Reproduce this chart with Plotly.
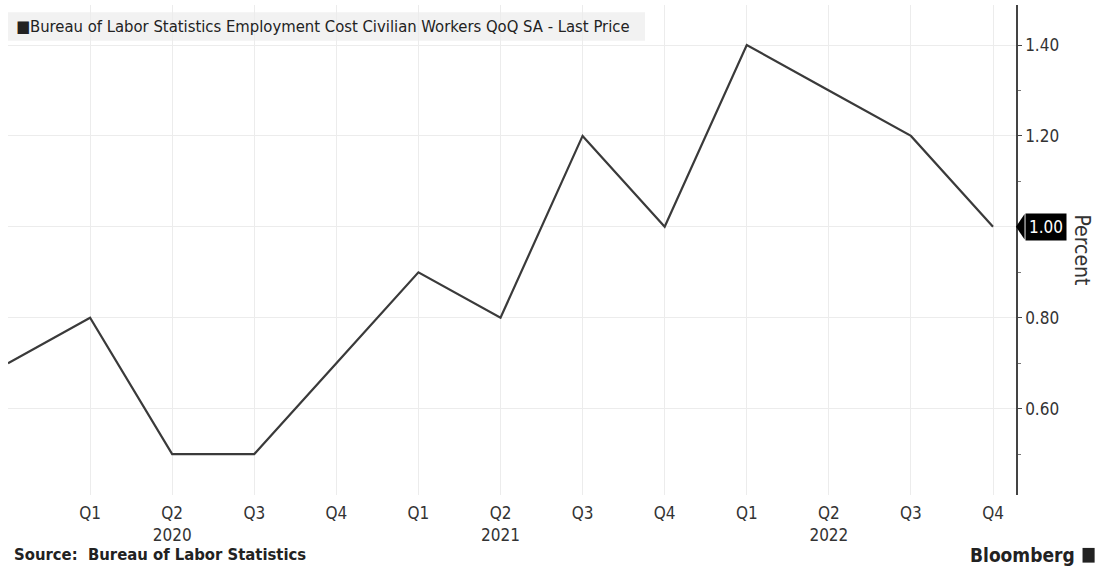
import plotly.graph_objects as go

quarters = ["Q4 2019", "Q1 2020", "Q2 2020", "Q3 2020", "Q4 2020",
            "Q1 2021", "Q2 2021", "Q3 2021", "Q4 2021",
            "Q1 2022", "Q2 2022", "Q3 2022", "Q4 2022"]
values = [0.70, 0.80, 0.50, 0.50, 0.70, 0.90, 0.80, 1.20, 1.00, 1.40, 1.30, 1.20, 1.00]
tick_labels = ["", "Q1", "Q2<br>2020", "Q3", "Q4", "Q1", "Q2<br>2021", "Q3", "Q4",
               "Q1", "Q2<br>2022", "Q3", "Q4"]
y_ticks = [0.60, 0.80, 1.00, 1.20, 1.40]

FONT = "Liberation Sans Narrow, DejaVu Sans Condensed, Arial Narrow, sans-serif"
xs = list(range(len(quarters)))

fig = go.Figure()
fig.add_trace(go.Scatter(
    x=xs, y=values, mode="lines",
    line=dict(color="#3a3a3a", width=2.2),
    hovertext=quarters, showlegend=False,
))

last = values[-1]
y_text = ["" if abs(v - last) < 1e-9 else f"{v:.2f}" for v in y_ticks]

fig.update_layout(
    width=1099, height=569,
    margin=dict(l=8, r=83, t=5, b=74),
    paper_bgcolor="white", plot_bgcolor="white",
    font=dict(family=FONT, color="#333333", size=15),
    xaxis=dict(
        range=[0, 12.28], tickvals=xs, ticktext=tick_labels,
        showgrid=True, gridcolor="#ececec", gridwidth=1,
        zeroline=False, showline=False, ticks="",
        ticklabelstandoff=6,
        tickfont=dict(size=17, color="#333333"),
    ),
    yaxis=dict(
        side="right", range=[0.41, 1.488],
        tickvals=y_ticks, ticktext=y_text,
        showgrid=True, gridcolor="#ececec", gridwidth=1,
        zeroline=False, showline=True, linecolor="#444444", linewidth=1.5,
        ticks="outside", ticklen=4, tickcolor="#444444",
        minor=dict(dtick=0.1, tick0=0, ticks="outside", ticklen=3, tickcolor="#777777", showgrid=False),
        tickfont=dict(size=17, color="#333333"),
    ),
    shapes=[
        dict(type="rect", xref="paper", yref="paper", x0=0.0, x1=0.632, y0=0.927, y1=0.985,
             fillcolor="#f2f2f2", line=dict(width=0), layer="below"),
        dict(type="path", xref="paper", yref="y",
             path=f"M 1.0,{last} L 1.0085,{last + 0.028} L 1.0085,{last - 0.028} Z",
             fillcolor="black", line=dict(width=0)),
        dict(type="rect", xref="paper", yref="paper", x0=1.066, x1=1.078, y0=-0.138, y1=-0.108,
             fillcolor="#222222", line=dict(width=0)),
    ],
    annotations=[
        dict(text="■Bureau of Labor Statistics Employment Cost Civilian Workers QoQ SA - Last Price",
             xref="paper", yref="paper", x=0.006, y=0.956, xanchor="left", yanchor="middle",
             showarrow=False, font=dict(size=16.5, color="#222222")),
        dict(text=f"{last:.2f}", xref="paper", yref="y", x=1.0085, y=last,
             xanchor="left", yanchor="middle", showarrow=False,
             bgcolor="black", font=dict(size=17, color="white"), borderpad=3),
        dict(text="Percent", xref="paper", yref="paper", x=1.065, y=0.5,
             xanchor="center", yanchor="middle", textangle=90, showarrow=False,
             font=dict(size=21, color="#333333")),
        dict(text="<b>Source:  Bureau of Labor Statistics</b>", xref="paper", yref="paper",
             x=0.004, y=-0.122, xanchor="left", yanchor="middle", showarrow=False,
             font=dict(size=16.5, color="#222222")),
        dict(text="<b>Bloomberg</b>", xref="paper", yref="paper",
             x=1.061, y=-0.122, xanchor="right", yanchor="middle", showarrow=False,
             font=dict(size=19, color="#222222")),
    ],
)

fig.write_html("out.html", config={"displayModeBar": False},
               post_script="document.body.style.margin='0';")
